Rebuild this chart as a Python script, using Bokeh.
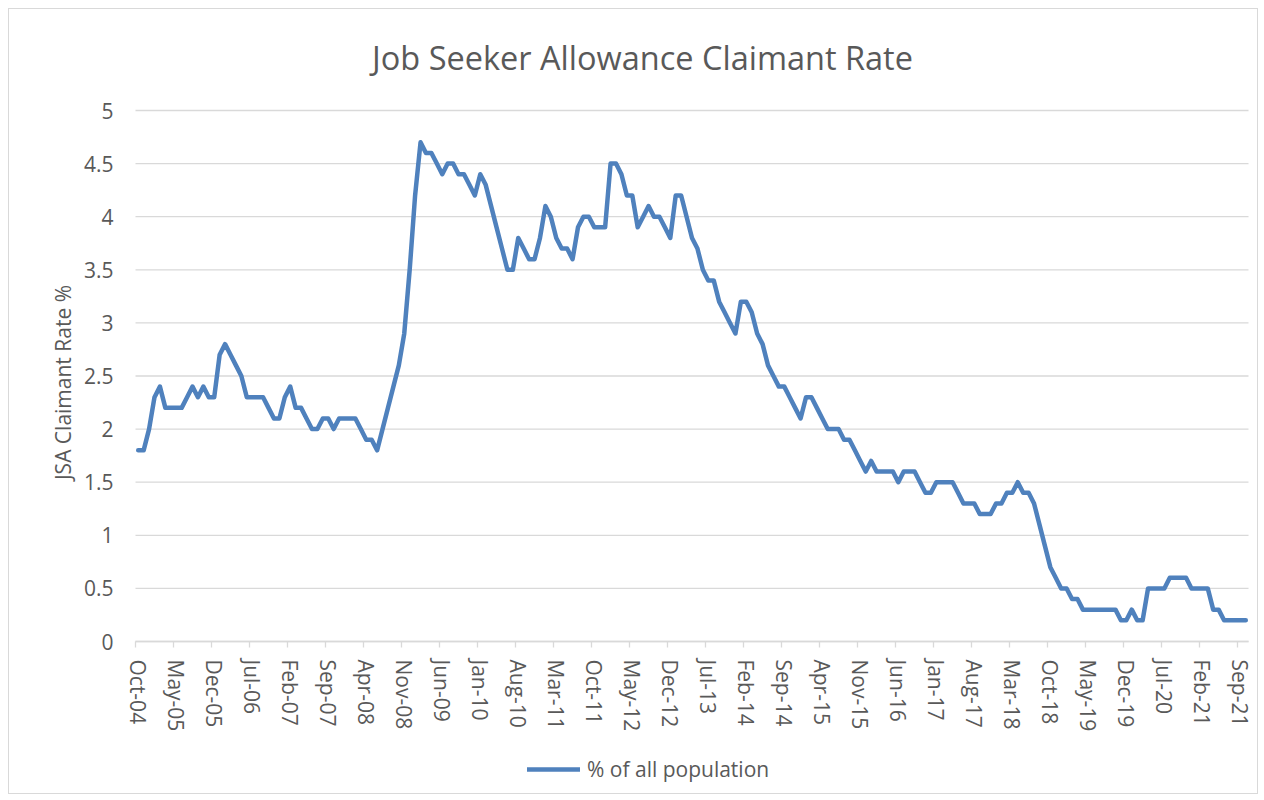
import pandas as pd
from bokeh.plotting import figure
from bokeh.models import (FixedTicker, Legend, LegendItem, Label, Range1d,
                          ColumnDataSource)
from bokeh.embed import file_html
from bokeh.resources import INLINE

# ---------------- data ----------------
title_text = "Job Seeker Allowance Claimant Rate"
y_axis_title = "JSA Claimant Rate %"
series_name = "% of all population"

months = [d.strftime("%b-%y") for d in pd.date_range("2004-10-01", "2021-10-01", freq="MS")]

rate = [
    1.8, 1.8, 2.0, 2.3, 2.4, 2.2, 2.2, 2.2, 2.2, 2.3,
    2.4, 2.3, 2.4, 2.3, 2.3, 2.7, 2.8, 2.7, 2.6, 2.5,
    2.3, 2.3, 2.3, 2.3, 2.2, 2.1, 2.1, 2.3, 2.4, 2.2,
    2.2, 2.1, 2.0, 2.0, 2.1, 2.1, 2.0, 2.1, 2.1, 2.1,
    2.1, 2.0, 1.9, 1.9, 1.8, 2.0, 2.2, 2.4, 2.6, 2.9,
    3.5, 4.2, 4.7, 4.6, 4.6, 4.5, 4.4, 4.5, 4.5, 4.4,
    4.4, 4.3, 4.2, 4.4, 4.3, 4.1, 3.9, 3.7, 3.5, 3.5,
    3.8, 3.7, 3.6, 3.6, 3.8, 4.1, 4.0, 3.8, 3.7, 3.7,
    3.6, 3.9, 4.0, 4.0, 3.9, 3.9, 3.9, 4.5, 4.5, 4.4,
    4.2, 4.2, 3.9, 4.0, 4.1, 4.0, 4.0, 3.9, 3.8, 4.2,
    4.2, 4.0, 3.8, 3.7, 3.5, 3.4, 3.4, 3.2, 3.1, 3.0,
    2.9, 3.2, 3.2, 3.1, 2.9, 2.8, 2.6, 2.5, 2.4, 2.4,
    2.3, 2.2, 2.1, 2.3, 2.3, 2.2, 2.1, 2.0, 2.0, 2.0,
    1.9, 1.9, 1.8, 1.7, 1.6, 1.7, 1.6, 1.6, 1.6, 1.6,
    1.5, 1.6, 1.6, 1.6, 1.5, 1.4, 1.4, 1.5, 1.5, 1.5,
    1.5, 1.4, 1.3, 1.3, 1.3, 1.2, 1.2, 1.2, 1.3, 1.3,
    1.4, 1.4, 1.5, 1.4, 1.4, 1.3, 1.1, 0.9, 0.7, 0.6,
    0.5, 0.5, 0.4, 0.4, 0.3, 0.3, 0.3, 0.3, 0.3, 0.3,
    0.3, 0.2, 0.2, 0.3, 0.2, 0.2, 0.5, 0.5, 0.5, 0.5,
    0.6, 0.6, 0.6, 0.6, 0.5, 0.5, 0.5, 0.5, 0.3, 0.3,
    0.2, 0.2, 0.2, 0.2, 0.2,
]

tick_labels = ["Oct-04", "May-05", "Dec-05", "Jul-06", "Feb-07", "Sep-07",
               "Apr-08", "Nov-08", "Jun-09", "Jan-10", "Aug-10", "Mar-11",
               "Oct-11", "May-12", "Dec-12", "Jul-13", "Feb-14", "Sep-14",
               "Apr-15", "Nov-15", "Jun-16", "Jan-17", "Aug-17", "Mar-18",
               "Oct-18", "May-19", "Dec-19", "Jul-20", "Feb-21", "Sep-21"]

y_ticks = [0, 0.5, 1, 1.5, 2, 2.5, 3, 3.5, 4, 4.5, 5]
y_tick_labels = ["0", "0.5", "1", "1.5", "2", "2.5", "3", "3.5", "4", "4.5", "5"]

# ---------------- layout / styling ----------------
FONT = "Open Sans"
TXT = "#595959"
GRID = "#D9D9D9"
BLUE = "#4F81BD"

W, H = 1250, 786            # chart size (inside a 1px border)
PLOT_L, PLOT_R = 126, 1239  # plot-area pixel extent inside the chart
PLOT_T, PLOT_B = 101, 632

n = len(rate)
x_lo, x_hi = -0.5, n - 0.5
y_lo, y_hi = 0.0, 5.0
kx = (PLOT_R - PLOT_L) / (x_hi - x_lo)
ky = (PLOT_B - PLOT_T) / (y_hi - y_lo)
x_range = Range1d(x_lo - PLOT_L / kx, x_hi + (W - PLOT_R) / kx)
y_range = Range1d(y_lo - (H - PLOT_B) / ky, y_hi + PLOT_T / ky)

src = ColumnDataSource(dict(x=list(range(n)), y=rate, month=months[:n]))

p = figure(width=W, height=H, output_backend="svg", toolbar_location=None,
           x_range=x_range, y_range=y_range,
           min_border_left=0, min_border_right=0, min_border_top=0,
           min_border_bottom=0)
p.styles = {"border": "1px solid #D9D9D9", "margin-left": "8px", "margin-top": "8px"}
p.background_fill_color = "white"
p.border_fill_color = "white"
p.outline_line_color = None
p.xgrid.visible = False
p.ygrid.visible = False

# horizontal gridlines limited to the plot area
p.segment(x0=[x_lo] * len(y_ticks), x1=[x_hi] * len(y_ticks), y0=y_ticks, y1=y_ticks,
          line_color=GRID, line_width=1.3)

r = p.line("x", "y", source=src, line_color=BLUE, line_width=4.5,
           line_join="round", line_cap="round")

# x axis: labels at category centres, tick marks at category boundaries
tick_pos = [months.index(t) for t in tick_labels]
xa = p.xaxis[0]
xa.fixed_location = y_lo
xa.bounds = (x_lo, x_hi)
xa.ticker = FixedTicker(ticks=tick_pos, minor_ticks=[t - 0.5 for t in tick_pos])
xa.major_label_overrides = {t: lab for t, lab in zip(tick_pos, tick_labels)}
xa.major_label_orientation = "vertical"
xa.major_label_text_font = FONT
xa.major_label_text_font_size = "21px"
xa.major_label_text_color = TXT
xa.major_label_standoff = 12
xa.major_tick_out = 6
xa.major_tick_in = 0
xa.major_tick_line_color = None
xa.minor_tick_out = 6
xa.minor_tick_in = 0
xa.minor_tick_line_color = GRID
xa.minor_tick_line_width = 1.3
xa.axis_line_color = GRID
xa.axis_line_width = 1.3

# y axis
ya = p.yaxis[0]
ya.fixed_location = x_lo
ya.bounds = (y_lo, y_hi)
ya.ticker = FixedTicker(ticks=y_ticks, minor_ticks=[])
ya.major_label_overrides = {t: lab for t, lab in zip(y_ticks, y_tick_labels)}
ya.major_label_text_font = FONT
ya.major_label_text_font_size = "21px"
ya.major_label_text_color = TXT
ya.major_label_standoff = 22
ya.major_tick_out = 0
ya.major_tick_in = 0
ya.major_tick_line_color = None
ya.minor_tick_line_color = None
ya.axis_line_color = None

# axis title, chart title
p.add_layout(Label(x=53, y=H - 373, x_units="screen", y_units="screen",
                   text=y_axis_title, angle=90, angle_units="deg",
                   text_align="center", text_baseline="middle",
                   text_font=FONT, text_font_size="21px", text_color=TXT))
p.add_layout(Label(x=633, y=H - 48, x_units="screen", y_units="screen",
                   text=title_text, text_align="center", text_baseline="middle",
                   text_font=FONT, text_font_size="32.5px", text_color=TXT))

legend = Legend(items=[LegendItem(label=series_name, renderers=[r])],
                location=(518, 12), orientation="horizontal",
                glyph_width=53, glyph_height=20, label_standoff=7,
                padding=0, margin=0, border_line_color=None,
                background_fill_alpha=0,
                label_text_font=FONT, label_text_font_size="21px",
                label_text_color=TXT)
p.add_layout(legend)

open("out.html", "w").write(file_html(p, INLINE))
